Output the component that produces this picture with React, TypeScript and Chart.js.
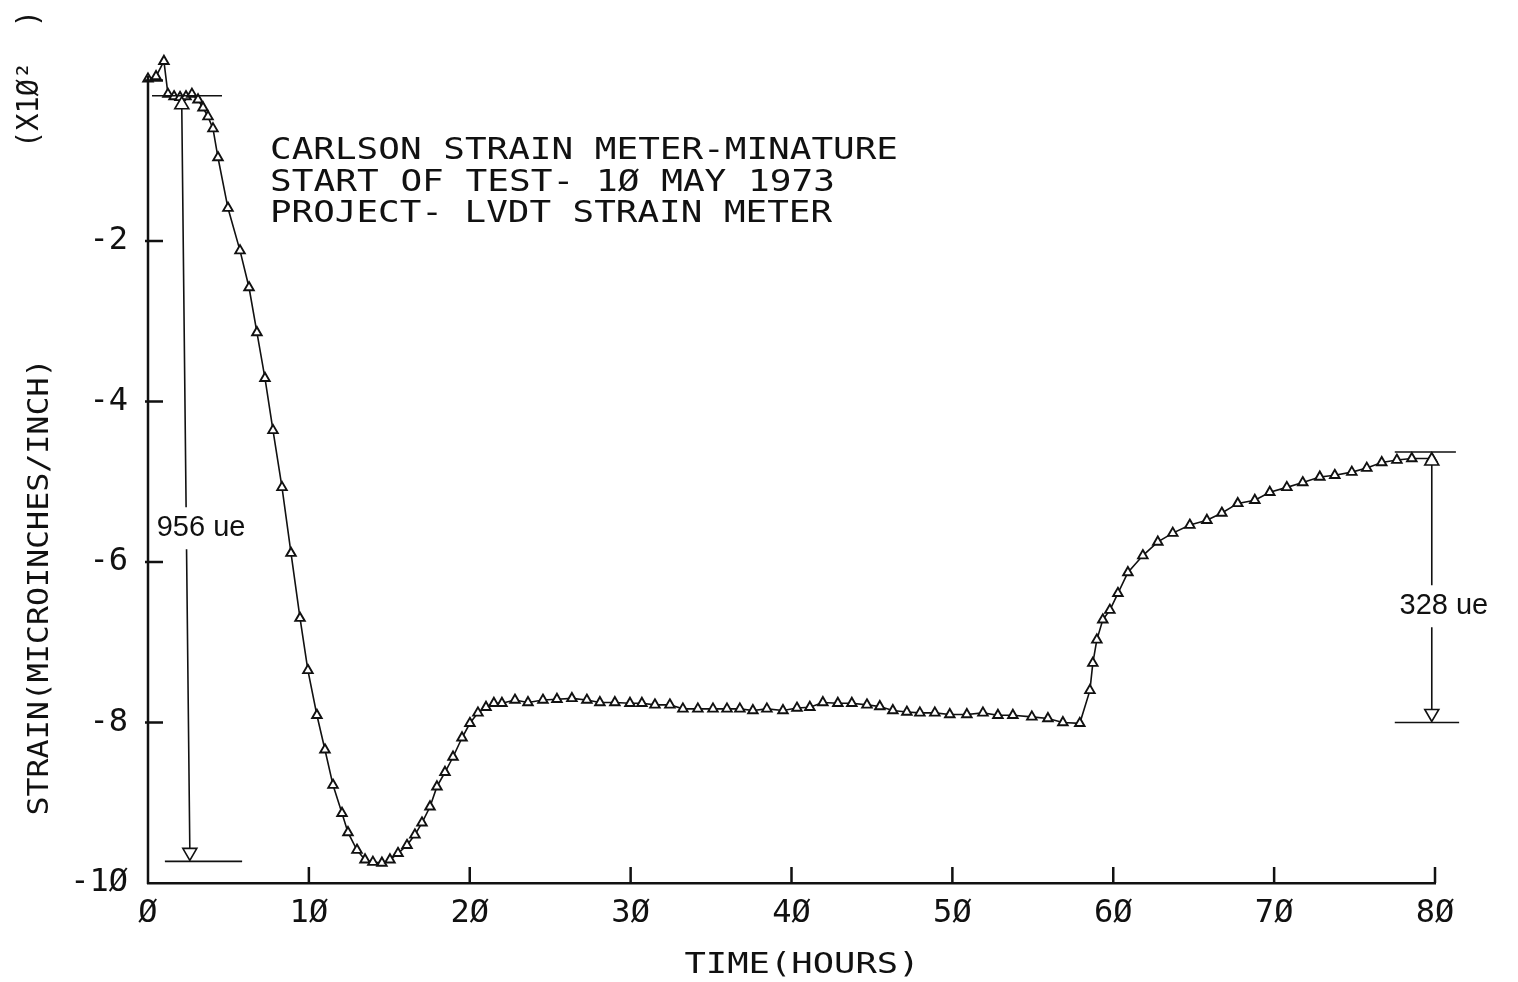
import { useEffect, useRef } from 'react';
import { Chart, registerables } from 'chart.js';

Chart.register(...registerables);

// ---- data (time in hours, strain in units of x10^2 microinches/inch) ----
const timeHours = [
  0.0, 0.5, 0.99, 1.24, 1.62, 1.99, 2.36, 2.73, 3.11, 3.42, 3.73, 4.04, 4.35, 4.97, 5.72, 6.28,
  6.77, 7.27, 7.77, 8.33, 8.89, 9.45, 9.94, 10.5, 11.0, 11.5, 12.06, 12.43, 12.99, 13.49, 13.98,
  14.54, 15.04, 15.54, 16.1, 16.59, 17.03, 17.53, 17.96, 18.46, 18.96, 19.52, 20.01, 20.51, 21.01,
  21.5, 22.0, 22.81, 23.62, 24.55, 25.42, 26.35, 27.28, 28.09, 29.02, 29.96, 30.7, 31.51, 32.44,
  33.25, 34.18, 35.12, 35.99, 36.79, 37.6, 38.47, 39.47, 40.34, 41.14, 41.95, 42.88, 43.75, 44.69,
  45.49, 46.3, 47.17, 47.98, 48.91, 49.84, 50.9, 51.9, 52.83, 53.76, 54.94, 55.94, 56.87, 57.92,
  58.55, 58.73, 58.98, 59.35, 59.79, 60.29, 60.91, 61.84, 62.77, 63.7, 64.76, 65.82, 66.75, 67.74,
  68.8, 69.73, 70.79, 71.78, 72.84, 73.77, 74.83, 75.76, 76.69, 77.63, 78.56, 79.8,
];
const strainX100 = [
  0.02, 0.05, 0.24, -0.17, -0.2, -0.21, -0.2, -0.17, -0.24, -0.34, -0.45, -0.6, -0.96, -1.59, -2.12, -2.58,
  -3.14, -3.71, -4.36, -5.07, -5.89, -6.7, -7.35, -7.91, -8.34, -8.78, -9.13, -9.37, -9.59, -9.71, -9.74,
  -9.75, -9.71, -9.63, -9.53, -9.4, -9.25, -9.05, -8.8, -8.62, -8.43, -8.19, -8.01, -7.88, -7.81,
  -7.76, -7.76, -7.72, -7.75, -7.72, -7.71, -7.7, -7.72, -7.75, -7.75, -7.76, -7.76, -7.78, -7.78,
  -7.83, -7.83, -7.83, -7.83, -7.83, -7.85, -7.83, -7.85, -7.82, -7.81, -7.75, -7.76, -7.76, -7.78,
  -7.8, -7.85, -7.87, -7.88, -7.88, -7.9, -7.9, -7.88, -7.91, -7.91, -7.93, -7.95, -8.0, -8.01,
  -7.6, -7.26, -6.97, -6.72, -6.6, -6.39, -6.13, -5.92, -5.75, -5.64, -5.54, -5.48, -5.39, -5.27,
  -5.23, -5.13, -5.07, -5.01, -4.94, -4.92, -4.88, -4.83, -4.76, -4.73, -4.71, -4.71,
];

const xTickValues = [0, 10, 20, 30, 40, 50, 60, 70, 80];
const xTickLabels = ['Ø', '1Ø', '2Ø', '3Ø', '4Ø', '5Ø', '6Ø', '7Ø', '8Ø'];
const yTickValues = [-10, -8, -6, -4, -2, 0];
const yTickLabels = ['-1Ø', '-8', '-6', '-4', '-2', ''];
const yAxisTopValue = 0.06;

const titleLines = [
  'CARLSON STRAIN METER-MINATURE',
  'START OF TEST- 1Ø MAY 1973',
  'PROJECT- LVDT STRAIN METER',
];
const xAxisTitle = 'TIME(HOURS)';
const yAxisTitle = 'STRAIN(MICROINCHES/INCH)';
const yAxisMultiplier = '(X1Ø²  )';

// dimension annotations
const dimLabels = ['956 ue', '328 ue'];
const dimTimeTop = [2.1, 79.8];
const dimTimeBottom = [2.6, 79.8];
const dimStrainTop = [-0.19, -4.63];
const dimStrainBottom = [-9.73, -8.0];
const dimTopLineFrom = [0.25, 77.5];
const dimTopLineTo = [4.6, 81.3];
const dimBottomLineFrom = [1.05, 77.5];
const dimBottomLineTo = [5.85, 81.5];
const dimLabelTime = [3.3, 80.55];
const dimLabelStrain = [-5.58, -6.55];

const MONO = '"DejaVu Sans Mono", monospace';
const INK = '#111';

function drawStretched(
  ctx: CanvasRenderingContext2D,
  text: string,
  x: number,
  y: number,
  width: number,
  font: string,
  align: 'left' | 'center',
) {
  ctx.save();
  ctx.font = font;
  ctx.textBaseline = 'middle';
  ctx.textAlign = 'left';
  const w = ctx.measureText(text).width;
  const sx = width / w;
  const startX = align === 'center' ? x - width / 2 : x;
  ctx.translate(startX, y);
  ctx.scale(sx, 1);
  ctx.fillText(text, 0, 0);
  ctx.restore();
}

const decorPlugin = {
  id: 'decor',
  afterDraw(chart: any) {
    const ctx: CanvasRenderingContext2D = chart.ctx;
    const xs = chart.scales.x;
    const ys = chart.scales.y;
    const area = chart.chartArea;
    ctx.save();
    ctx.fillStyle = INK;
    ctx.strokeStyle = INK;

    // y axis line (stops just above zero)
    ctx.lineWidth = 2.5;
    ctx.beginPath();
    ctx.moveTo(area.left, area.bottom + 1);
    ctx.lineTo(area.left, ys.getPixelForValue(yAxisTopValue));
    ctx.stroke();

    // inward tick marks
    ctx.beginPath();
    xTickValues.forEach((v) => {
      if (v === 0) return;
      const px = xs.getPixelForValue(v);
      ctx.moveTo(px, area.bottom);
      ctx.lineTo(px, area.bottom - 16);
    });
    yTickValues.forEach((v) => {
      if (v === -10) return;
      const py = ys.getPixelForValue(v);
      ctx.moveTo(area.left - 3, py);
      ctx.lineTo(area.left + 15, py);
    });
    ctx.stroke();

    // title block
    const tFont = `31px ${MONO}`;
    drawStretched(ctx, titleLines[0], 270, 151, 628, tFont, 'left');
    drawStretched(ctx, titleLines[1], 270, 183, 565, tFont, 'left');
    drawStretched(ctx, titleLines[2], 270, 214, 562, tFont, 'left');

    // x axis title
    drawStretched(ctx, xAxisTitle, 802, 965, 235, `29px ${MONO}`, 'center');

    // y axis title (rotated)
    ctx.save();
    ctx.translate(40, 587);
    ctx.rotate(-Math.PI / 2);
    drawStretched(ctx, yAxisTitle, 0, 0, 457, `29px ${MONO}`, 'center');
    ctx.restore();

    ctx.save();
    ctx.translate(30, 79);
    ctx.rotate(-Math.PI / 2);
    drawStretched(ctx, yAxisMultiplier, 0, 0, 138, `30px ${MONO}`, 'center');
    ctx.restore();

    // dimension annotations
    ctx.lineWidth = 1.6;
    dimLabels.forEach((label, i) => {
      const xt = xs.getPixelForValue(dimTimeTop[i]);
      const xb = xs.getPixelForValue(dimTimeBottom[i]);
      const yt = ys.getPixelForValue(dimStrainTop[i]);
      const yb = ys.getPixelForValue(dimStrainBottom[i]);
      const yl = ys.getPixelForValue(dimLabelStrain[i]);
      const xl = xs.getPixelForValue(dimLabelTime[i]);
      ctx.beginPath();
      ctx.moveTo(xs.getPixelForValue(dimTopLineFrom[i]), yt);
      ctx.lineTo(xs.getPixelForValue(dimTopLineTo[i]), yt);
      ctx.moveTo(xs.getPixelForValue(dimBottomLineFrom[i]), yb);
      ctx.lineTo(xs.getPixelForValue(dimBottomLineTo[i]), yb);
      ctx.stroke();
      const gap = 21;
      const f = (y: number) => xt + ((xb - xt) * (y - yt)) / (yb - yt);
      ctx.beginPath();
      ctx.moveTo(xt, yt + 12);
      ctx.lineTo(f(yl - gap), yl - gap);
      ctx.moveTo(f(yl + gap), yl + gap);
      ctx.lineTo(xb, yb - 12);
      ctx.stroke();
      ctx.fillStyle = '#fff';
      ctx.beginPath();
      ctx.moveTo(xt, yt + 1);
      ctx.lineTo(xt - 7, yt + 13);
      ctx.lineTo(xt + 7, yt + 13);
      ctx.closePath();
      ctx.fill();
      ctx.stroke();
      ctx.beginPath();
      ctx.moveTo(xb, yb - 1);
      ctx.lineTo(xb - 7, yb - 13);
      ctx.lineTo(xb + 7, yb - 13);
      ctx.closePath();
      ctx.fill();
      ctx.stroke();
      ctx.fillStyle = INK;
      ctx.font = '29px "Liberation Sans", Arial, sans-serif';
      ctx.textAlign = 'center';
      ctx.textBaseline = 'middle';
      ctx.fillText(label, xl, yl);
    });
    ctx.restore();
  },
};

export default function App() {
  const canvasRef = useRef<HTMLCanvasElement | null>(null);

  useEffect(() => {
    const canvas = canvasRef.current;
    if (!canvas) return;
    const points = timeHours.map((t, i) => ({ x: t, y: strainX100[i] }));
    const chart = new Chart(canvas, {
      type: 'line',
      data: {
        datasets: [
          {
            data: points,
            borderColor: INK,
            borderWidth: 1.6,
            pointStyle: 'triangle',
            pointRadius: 5.5,
            pointBorderWidth: 1.9,
            pointBackgroundColor: '#fff',
            pointBorderColor: INK,
            tension: 0,
            clip: false as any,
          },
        ],
      },
      options: {
        animation: false,
        responsive: true,
        maintainAspectRatio: false,
        devicePixelRatio: 1,
        layout: { padding: { top: 52.4, right: 83, left: 0, bottom: 0 } },
        plugins: {
          legend: { display: false },
          tooltip: { enabled: false },
          title: { display: false },
        },
        scales: {
          x: {
            type: 'linear',
            min: 0,
            max: 80,
            afterFit: (s: any) => {
              s.height = 99;
            },
            afterBuildTicks: (s: any) => {
              s.ticks = xTickValues.map((v) => ({ value: v }));
            },
            ticks: {
              color: INK,
              font: { family: MONO, size: 32 },
              padding: 11,
              maxRotation: 0,
              autoSkip: false,
              callback: (v: any) => xTickLabels[xTickValues.indexOf(Number(v))] ?? '',
            },
            grid: { display: false, drawTicks: false },
            border: { display: true, color: INK, width: 2.5 },
          },
          y: {
            type: 'linear',
            min: -10,
            max: 0.35,
            afterFit: (s: any) => {
              s.width = 148;
            },
            afterBuildTicks: (s: any) => {
              s.ticks = yTickValues.map((v) => ({ value: v }));
            },
            ticks: {
              color: INK,
              font: { family: MONO, size: 32 },
              padding: 20,
              autoSkip: false,
              callback: (v: any) => yTickLabels[yTickValues.indexOf(Number(v))] ?? '',
            },
            grid: { display: false, drawTicks: false },
            border: { display: false },
          },
        },
      },
      plugins: [decorPlugin],
    });
    return () => chart.destroy();
  }, []);

  return (
    <div style={{ position: 'fixed', left: 0, top: 0, width: 1518, height: 982, background: '#fff' }}>
      <canvas ref={canvasRef} />
    </div>
  );
}
